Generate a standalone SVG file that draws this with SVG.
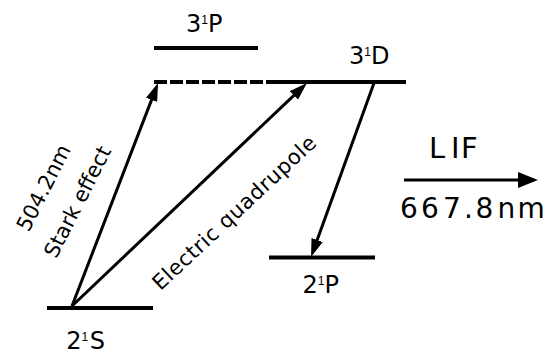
<svg xmlns="http://www.w3.org/2000/svg" width="553" height="354" viewBox="0 0 553 354">
  <style>
    text { font-family: "DejaVu Sans", "Liberation Sans", Arial, sans-serif; fill: #000; }
    .lbl { font-size: 24px; }
    .sup { font-size: 12px; font-family: "Liberation Sans", Arial, sans-serif; }
    .rot { font-size: 21px; }
    .big { font-size: 28px; }
    .level { stroke: #000; stroke-width: 4; fill: none; }
    .arrow { stroke: #000; stroke-width: 3; fill: none; }
  </style>
  <defs>
    <marker id="head" viewBox="0 0 18 12" refX="4" refY="6" markerWidth="18" markerHeight="12" markerUnits="userSpaceOnUse" orient="auto">
      <path d="M0,0 L18,6 L0,12 z" fill="#000"/>
    </marker>
    <marker id="headBig" viewBox="0 0 20 16" refX="4" refY="8" markerWidth="20" markerHeight="16" markerUnits="userSpaceOnUse" orient="auto">
      <path d="M0,0 L20,8 L0,16 z" fill="#000"/>
    </marker>
  </defs>

  <g id="level-3P">
    <line class="level" x1="154" y1="48" x2="258" y2="48"/>
    <text class="lbl" x="186" y="32">3<tspan class="sup" dy="-8">1</tspan><tspan dy="8">P</tspan></text>
  </g>

  <g id="level-3D">
    <line class="level" x1="154" y1="82" x2="280" y2="82" stroke-dasharray="13 3"/>
    <line class="level" x1="279" y1="82" x2="406" y2="82"/>
    <text class="lbl" x="349" y="64">3<tspan class="sup" dy="-8">1</tspan><tspan dy="8">D</tspan></text>
  </g>

  <g id="level-2P">
    <line class="level" x1="269" y1="257.5" x2="375" y2="257.5"/>
    <text class="lbl" x="302.5" y="293">2<tspan class="sup" dy="-8">1</tspan><tspan dy="8">P</tspan></text>
  </g>

  <g id="level-2S">
    <line class="level" x1="47" y1="308" x2="153" y2="308"/>
    <text class="lbl" x="66.3" y="349">2<tspan class="sup" dy="-8">1</tspan><tspan dx="1.5" dy="8">S</tspan></text>
  </g>

  <g id="lif">
    <text y="158" style="font-size:29px"><tspan x="429">L</tspan><tspan x="451">I</tspan><tspan x="461">F</tspan></text>
    <text class="big" y="218" x="400 421 443 464 475.5 497.5 517.5">667.8nm</text>
  </g>

  <g id="connectors">
    <line class="arrow" x1="72" y1="306" x2="153" y2="96.1" marker-end="url(#head)"/>
    <line class="arrow" x1="72" y1="306" x2="296.8" y2="92.6" marker-end="url(#head)"/>
    <line class="arrow" x1="374" y1="83" x2="315.8" y2="243.8" marker-end="url(#head)"/>
    <line class="arrow" x1="404" y1="180" x2="522" y2="180" stroke-width="3.5" marker-end="url(#headBig)"/>
  </g>

  <g id="transition-labels">
    <text class="rot" text-anchor="middle" transform="translate(50,191) rotate(-63)">504.2nm</text>
    <text class="rot" text-anchor="middle" transform="translate(84,205) rotate(-63)">Stark effect</text>
    <text class="rot" text-anchor="middle" transform="translate(239,218) rotate(-43)" textLength="215" lengthAdjust="spacing">Electric quadrupole</text>
  </g>
</svg>
